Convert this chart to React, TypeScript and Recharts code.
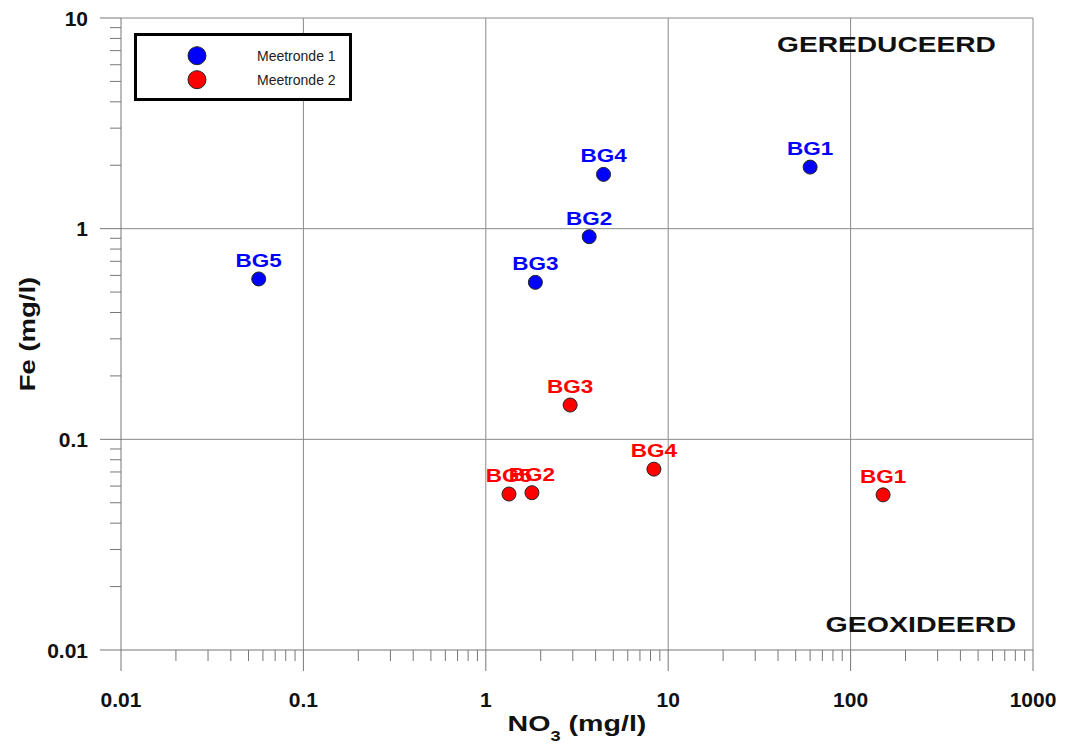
import React from "react";
import { ScatterChart, Scatter, XAxis, YAxis, ReferenceLine, Legend } from "recharts";

const FONT = "'Liberation Sans', Arial, sans-serif";

// Tick labels / decades
const xMajor = [0.01, 0.1, 1, 10, 100, 1000];
const yMajor = [0.01, 0.1, 1, 10];
const minorMultipliers = [2, 3, 4, 5, 6, 7, 8, 9];

// Stations
const stationNames = ["BG1", "BG2", "BG3", "BG4", "BG5"];

// Meetronde 1 (blue)
const round1NO3 = [60.0, 3.69, 1.87, 4.42, 0.0569];
const round1Fe = [1.96, 0.916, 0.556, 1.81, 0.577];

// Meetronde 2 (red)
const round2NO3 = [150.7, 1.79, 2.9, 8.35, 1.34];
const round2Fe = [0.0545, 0.0558, 0.1455, 0.0722, 0.055];

const seriesNames = ["Meetronde 1", "Meetronde 2"];
const seriesColors = ["#0000ff", "#ff0000"];

const build = (no3: number[], fe: number[]) =>
  stationNames.map((name, i) => ({ name, no3: no3[i], fe: fe[i] }));

const round1Data = build(round1NO3, round1Fe);
const round2Data = build(round2NO3, round2Fe);

const withMinors = (majors: number[]) =>
  majors.flatMap((d, i) =>
    i < majors.length - 1 ? [d, ...minorMultipliers.map((m) => +(d * m).toPrecision(6))] : [d]
  );
const xTicks = withMinors(xMajor);
const yTicks = withMinors(yMajor);

const isMajor = (v: number) => {
  const l = Math.log10(v);
  return Math.abs(l - Math.round(l)) < 1e-6;
};

const AXIS_COLOR = "#777";
const GRID_COLOR = "#8a8a8a";

const XTick = (props: any) => {
  const { x, y, payload } = props;
  const v = payload.value;
  const major = isMajor(v);
  return (
    <g>
      <line x1={x} x2={x} y1={y} y2={y + (major ? 21 : 11)} stroke={AXIS_COLOR} strokeWidth={1} />
      {major && (
        <text x={x} y={y + 57} textAnchor="middle" fontFamily={FONT} fontWeight="bold" fontSize={21} fill="#111">
          {String(v)}
        </text>
      )}
    </g>
  );
};

const YTick = (props: any) => {
  const { x, y, payload } = props;
  const v = payload.value;
  const major = isMajor(v);
  return (
    <g>
      <line x1={x - (major ? 21 : 11)} x2={x} y1={y} y2={y} stroke={AXIS_COLOR} strokeWidth={1} />
      {major && (
        <text x={x - 33} y={y + 7.5} textAnchor="end" fontFamily={FONT} fontWeight="bold" fontSize={21} fill="#111">
          {String(v)}
        </text>
      )}
    </g>
  );
};

const makeShape = (color: string) => (props: any) => {
  const { cx, cy, payload } = props;
  if (cx == null || cy == null) return <g />;
  return (
    <g>
      <circle cx={cx} cy={cy} r={7} fill={color} stroke="#222" strokeWidth={1} />
      <text
        transform={`translate(${cx},${cy - 12}) scale(1.25,1)`}
        textAnchor="middle"
        fontFamily={FONT}
        fontWeight="bold"
        fontSize={18}
        fill={color}
      >
        {payload.name}
      </text>
    </g>
  );
};

const XTitle = (props: any) => {
  const vb = props.viewBox || {};
  const cx = vb.x + vb.width / 2;
  const by = vb.y + 81;
  return (
    <text
      transform={`translate(${cx},${by}) scale(1.3,1)`}
      textAnchor="middle"
      fontFamily={FONT}
      fontWeight="bold"
      fontSize={22}
      fill="#111"
    >
      <tspan>NO</tspan>
      <tspan dy={10} fontSize={14}>3</tspan>
      <tspan dy={-10}> (mg/l)</tspan>
    </text>
  );
};

const YTitle = (props: any) => {
  const vb = props.viewBox || {};
  const cy = vb.y + vb.height / 2;
  return (
    <text
      transform={`translate(27,${cy}) rotate(-90) scale(1.25,1)`}
      textAnchor="middle"
      fontFamily={FONT}
      fontWeight="bold"
      fontSize={22}
      fill="#111"
    >
      Fe (mg/l)
    </text>
  );
};

const LegendBox = () => (
  <svg width={218} height={68} style={{ display: "block" }}>
    <rect x={1.5} y={1.5} width={215} height={65} fill="#fff" stroke="#000" strokeWidth={3} />
    {seriesNames.map((n, i) => (
      <g key={n}>
        <circle cx={63} cy={22.7 + i * 24} r={9} fill={seriesColors[i]} stroke="#222" strokeWidth={1} />
        <text x={123} y={28 + i * 24} fontFamily={FONT} fontSize={14} fill="#222">
          {n}
        </text>
      </g>
    ))}
  </svg>
);

export default function App() {
  const W = 1049;
  const H = 739;
  return (
    <div style={{ position: "relative", width: W, height: H }}>
      <ScatterChart width={W} height={H} margin={{ top: 10, right: 24, bottom: 0, left: 0 }}>
        <XAxis
          type="number"
          dataKey="no3"
          scale="log"
          domain={[0.01, 1000]}
          allowDataOverflow
          ticks={xTicks}
          interval={0}
          tickSize={0}
          tickMargin={0}
          tickLine={false}
          tick={<XTick />}
          height={97}
          axisLine={{ stroke: AXIS_COLOR, strokeWidth: 1 }}
          label={<XTitle />}
        />
        <YAxis
          type="number"
          dataKey="fe"
          scale="log"
          domain={[0.01, 10]}
          allowDataOverflow
          ticks={yTicks}
          interval={0}
          tickSize={0}
          tickMargin={0}
          tickLine={false}
          tick={<YTick />}
          width={113}
          axisLine={{ stroke: AXIS_COLOR, strokeWidth: 1 }}
          label={<YTitle />}
        />
        {xMajor.slice(1).map((v) => (
          <ReferenceLine key={"x" + v} x={v} stroke={GRID_COLOR} strokeWidth={1} />
        ))}
        {yMajor.slice(1).map((v) => (
          <ReferenceLine key={"y" + v} y={v} stroke={GRID_COLOR} strokeWidth={1} />
        ))}
        <Legend
          layout="vertical"
          align="center"
          verticalAlign="middle"
          content={() => <LegendBox />}
          wrapperStyle={{ left: 126, top: 25, width: 218, height: 68, right: "auto", bottom: "auto" }}
        />
        <Scatter
          name={seriesNames[0]}
          data={round1Data}
          fill={seriesColors[0]}
          shape={makeShape(seriesColors[0])}
          isAnimationActive={false}
        />
        <Scatter
          name={seriesNames[1]}
          data={round2Data}
          fill={seriesColors[1]}
          shape={makeShape(seriesColors[1])}
          isAnimationActive={false}
        />
      </ScatterChart>
      <svg
        width={W}
        height={H}
        style={{ position: "absolute", left: 0, top: 0, pointerEvents: "none" }}
      >
        <text
          transform="translate(769,44) scale(1.28,1)"
          fontFamily={FONT}
          fontWeight="bold"
          fontSize={22}
          fill="#111"
        >
          GEREDUCEERD
        </text>
        <text
          transform="translate(817.5,624) scale(1.3,1)"
          fontFamily={FONT}
          fontWeight="bold"
          fontSize={22}
          fill="#111"
        >
          GEOXIDEERD
        </text>
      </svg>
    </div>
  );
}
